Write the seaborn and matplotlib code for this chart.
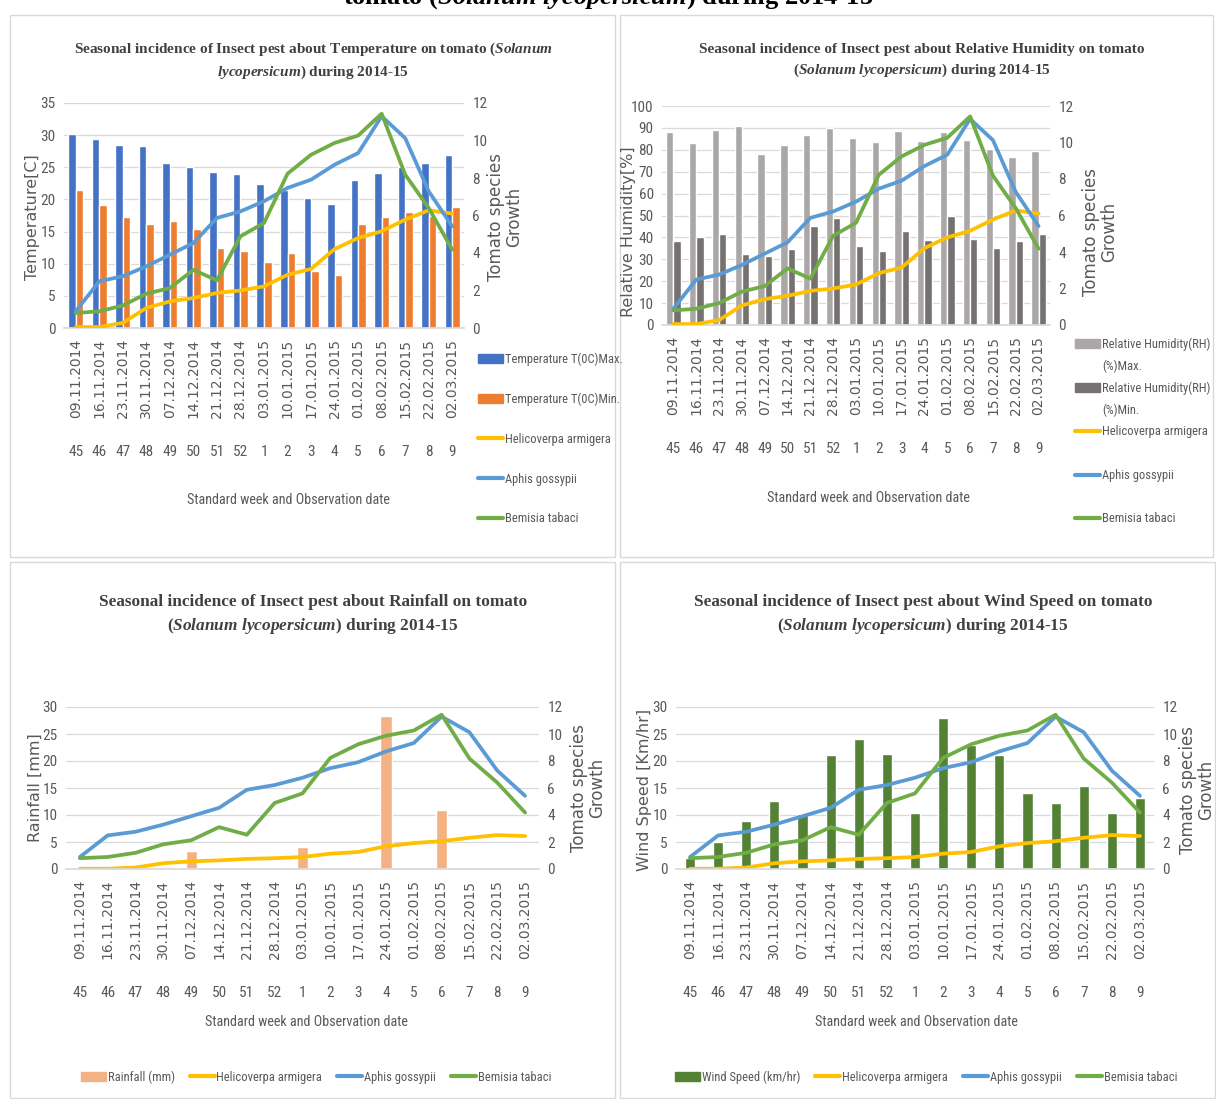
import numpy as np
import pandas as pd
import matplotlib
matplotlib.use('Agg')
import matplotlib.pyplot as plt
from matplotlib import font_manager
from matplotlib.patches import Patch, Rectangle
from matplotlib.lines import Line2D
import seaborn as sns

# ── Data ─────────────────────────────────────────────────────
DATES = ['09.11.2014', '16.11.2014', '23.11.2014', '30.11.2014', '07.12.2014',
         '14.12.2014', '21.12.2014', '28.12.2014', '03.01.2015', '10.01.2015',
         '17.01.2015', '24.01.2015', '01.02.2015', '08.02.2015', '15.02.2015',
         '22.02.2015', '02.03.2015']
WEEKS = ['45', '46', '47', '48', '49', '50', '51', '52',
         '1', '2', '3', '4', '5', '6', '7', '8', '9']

HELICO  = [0.05, 0.05, 0.27, 1.07, 1.42, 1.60, 1.87, 2.00, 2.22, 2.84,
           3.15, 4.21, 4.80, 5.16, 5.78, 6.28, 6.10]
APHIS   = [0.89, 2.49, 2.76, 3.29, 3.91, 4.53, 5.87, 6.22, 6.76, 7.47,
           7.91, 8.71, 9.33, 11.29, 10.13, 7.29, 5.42]
BEMISIA = [0.80, 0.89, 1.20, 1.83, 2.13, 3.10, 2.54, 4.89, 5.60, 8.23,
           9.24, 9.87, 10.26, 11.43, 8.18, 6.40, 4.18]

TEMP_MAX = [30.2, 29.4, 28.5, 28.3, 25.6, 25.1, 24.2, 24.0, 22.4, 21.5,
            20.2, 19.3, 23.1, 24.1, 25.1, 25.6, 26.9]
TEMP_MIN = [21.4, 19.1, 17.2, 16.2, 16.7, 15.4, 12.4, 12.0, 10.3, 11.7,
            8.8, 8.2, 16.2, 17.2, 18.1, 17.5, 18.9]

RH_MAX = [88.1, 82.9, 89.0, 90.8, 78.3, 82.3, 86.9, 89.8, 85.2, 83.5,
          88.5, 84.0, 88.1, 84.4, 80.5, 76.6, 79.4]
RH_MIN = [38.2, 40.0, 41.5, 32.5, 31.3, 34.7, 45.0, 49.0, 35.9, 34.0,
          42.7, 38.6, 50.0, 39.2, 35.1, 38.2, 41.5]

RAINFALL = [0, 0, 0, 0, 3.3, 0, 0, 0, 4.0, 0, 0, 28.3, 0, 10.9, 0, 0, 0]

WIND = [2.1, 5.0, 8.9, 12.6, 10.1, 21.1, 24.1, 21.3, 10.3, 28.0,
        23.0, 21.1, 14.1, 12.3, 15.4, 10.3, 13.2]

IDX = list(range(len(DATES)))

# ── Style ────────────────────────────────────────────────────
BLUE, ORANGE = '#4472C4', '#ED7D31'
YELLOW, LBLUE, GREEN = '#FFC000', '#5B9BD5', '#70AD47'
RH_HI, RH_LO = '#ABA7A7', '#767171'
RAIN_C, WIND_C = '#F4B183', '#548235'
GRID, TXT = '#D9D9D9', '#595959'

installed = {f.name for f in font_manager.fontManager.ttflist}
NARROW = [n for n in ['Roboto Condensed', 'Liberation Sans Narrow', 'Open Sans Condensed',
                      'Liberation Sans'] if n in installed][:1] + ['DejaVu Sans']

sns.set_theme(style='white')
plt.rcParams['font.family'] = ['DejaVu Sans']
plt.rcParams['mathtext.fontset'] = 'custom'
plt.rcParams['mathtext.rm'] = 'Liberation Serif:bold'
plt.rcParams['mathtext.bf'] = 'Liberation Serif:bold'
plt.rcParams['mathtext.it'] = 'Liberation Serif:italic:bold'

W, H = 1216, 1099
fig = plt.figure(figsize=(W / 100, H / 100), dpi=100)


def fx(x):
    return x / W


def fy(y):
    return 1 - y / H


# panel frames
for (x0, y0, x1, y1) in [(10, 15, 615, 557), (620, 15, 1213, 557),
                         (10, 562, 615, 1098), (620, 562, 1215, 1098)]:
    fig.patches.append(Rectangle((fx(x0), fy(y1)), (x1 - x0) / W, (y1 - y0) / H,
                                 transform=fig.transFigure, fill=False,
                                 edgecolor=GRID, lw=1))

# cut-off heading at the very top
fig.text(0.5, 1 + 2 / H, r'tomato ($\mathit{Solanum\ lycopersicum)}$ during 2014-15',
         ha='center', va='center', fontsize=19, fontweight='bold',
         family='Liberation Serif', color='black')


def bars(ax, series, names, colors, width):
    df = pd.DataFrame({
        'idx': IDX * len(series),
        'val': [v for s in series for v in s],
        'series': [n for n, s in zip(names, series) for _ in s],
    })
    sns.barplot(data=df, x='idx', y='val', hue='series', palette=colors,
                width=width, saturation=1, legend=False, ax=ax)


def lines(ax, data, color):
    sns.lineplot(x=IDX, y=data, color=color, lw=2.7, ax=ax)


def style(ax, axr, ymax, ystep):
    ax.set_xlim(-0.5, 16.5)
    ax.set_ylim(0, ymax)
    ax.set_yticks(np.arange(0, ymax + 0.1, ystep))
    axr.set_ylim(0, 12)
    axr.set_yticks(range(0, 13, 2))
    for s in ['top', 'left', 'right']:
        ax.spines[s].set_visible(False)
    ax.spines['bottom'].set_color(GRID)
    for s in axr.spines.values():
        s.set_visible(False)
    ax.grid(axis='y', color=GRID, lw=0.9)
    ax.grid(axis='x', visible=False)
    axr.grid(False)
    ax.set_axisbelow(True)
    ax.set_xticks(IDX)
    ax.set_xticklabels(DATES, rotation=90, fontsize=10, color=TXT)
    ax.tick_params(axis='x', which='major', length=0, pad=8)
    ax.set_xticks(np.arange(-0.5, 17, 1), minor=True)
    ax.tick_params(axis='x', which='minor', length=97, color=GRID, width=0.9)
    ax.tick_params(axis='y', length=0, pad=6, labelsize=11, labelcolor=TXT)
    axr.tick_params(axis='y', length=0, pad=6, labelsize=11, labelcolor=TXT)
    for t in ax.get_yticklabels() + axr.get_yticklabels():
        t.set_family(NARROW)
    for i, w in enumerate(WEEKS):
        ax.annotate(w, xy=(i, 0), xycoords=('data', 'axes fraction'),
                    xytext=(0, -89), textcoords='offset points',
                    ha='center', va='center', fontsize=11, color=TXT,
                    family=NARROW)
    for a in (ax, axr):
        a.set_xlabel('')
        a.set_ylabel('')


def labels(title, tx, ty, tsize, xl, yl, ylx, rx, ly):
    fig.text(fx(tx), fy(ty), title, ha='center', va='center', fontsize=tsize,
             fontweight='bold', family='Liberation Serif', color='#404040',
             linespacing=1.5)
    fig.text(fx(xl[0]), fy(xl[1]), 'Standard week and Observation date',
             ha='center', va='center', fontsize=10.2, color=TXT, family=NARROW)
    fig.text(fx(ylx), fy(ly), yl, ha='center', va='center', rotation=90,
             fontsize=11.5, color=TXT)
    fig.text(fx(rx), fy(ly), 'Tomato species\nGrowth', ha='center', va='center',
             rotation=90, fontsize=12, color=TXT, linespacing=1.0)


def line_handles():
    return [Line2D([], [], color=YELLOW, lw=3, label='Helicoverpa armigera'),
            Line2D([], [], color=LBLUE, lw=3, label='Aphis gossypii'),
            Line2D([], [], color=GREEN, lw=3, label='Bemisia tabaci')]


LEG = dict(frameon=False, handletextpad=0.15, labelcolor=TXT,
           prop={'family': NARROW, 'size': 9})


def stack_legend(handles, x, ys):
    # one entry per row, each row placed at its own height
    for h, y in zip(handles, ys):
        fig.legend(handles=[h], loc='center left', bbox_to_anchor=(fx(x), fy(y)),
                   borderpad=0, borderaxespad=0, handlelength=2.0, **LEG)


# ── Panel 1: Temperature ─────────────────────────────────────
ax1 = fig.add_axes([fx(64), fy(328), 400 / W, 225 / H])
bars(ax1, [TEMP_MAX, TEMP_MIN], ['max', 'min'], [BLUE, ORANGE], 0.64)
ax1r = ax1.twinx()
for d, c in zip([HELICO, APHIS, BEMISIA], [YELLOW, LBLUE, GREEN]):
    lines(ax1r, d, c)
style(ax1, ax1r, 35, 5)
labels('Seasonal incidence of Insect pest about Temperature on tomato ($\\mathit{Solanum}$\n'
       '$\\mathit{lycopersicum)}$ during 2014-15', 313, 61, 11.0,
       (288, 500), 'Temperature[C]', 32, 505, 217)
stack_legend([Patch(color=BLUE, label='Temperature T(0C)Max.'),
              Patch(color=ORANGE, label='Temperature T(0C)Min.')] + line_handles(),
             478, [359, 399, 439, 479, 519])

# ── Panel 2: Relative Humidity ───────────────────────────────
ax2 = fig.add_axes([fx(662), fy(325), 388 / W, 219 / H])
bars(ax2, [RH_MAX, RH_MIN], ['max', 'min'], [RH_HI, RH_LO], 0.64)
ax2r = ax2.twinx()
for d, c in zip([HELICO, APHIS, BEMISIA], [YELLOW, LBLUE, GREEN]):
    lines(ax2r, d, c)
style(ax2, ax2r, 100, 10)
labels('Seasonal incidence of Insect pest about Relative Humidity on tomato\n'
       '($\\mathit{Solanum\\ lycopersicum)}$ during 2014-15', 922, 61, 11.0,
       (868, 498), 'Relative Humidity[%]', 629, 1100, 232)
stack_legend([Patch(color=RH_HI, label='Relative Humidity(RH)'),
              Patch(color=RH_LO, label='Relative Humidity(RH)')] + line_handles(),
             1075, [344, 388, 432, 476, 519])
for txt, y in [('(%)Max.', 366), ('(%)Min.', 410)]:
    fig.text(fx(1102), fy(y), txt, ha='left', va='center', color=TXT,
             family=NARROW, fontsize=9)

# ── Panel 3: Rainfall ────────────────────────────────────────
ax3 = fig.add_axes([fx(66), fy(869), 473 / W, 162 / H])
bars(ax3, [RAINFALL], ['rain'], [RAIN_C], 0.4)
lines(ax3, HELICO, YELLOW)
ax3r = ax3.twinx()
lines(ax3r, APHIS, LBLUE)
lines(ax3r, BEMISIA, GREEN)
style(ax3, ax3r, 30, 5)
labels('Seasonal incidence of Insect pest about Rainfall on tomato\n'
       '($\\mathit{Solanum\\ lycopersicum)}$ during 2014-15', 313, 615, 12.4,
       (306, 1022), 'Rainfall [mm]', 35, 588, 788)
fig.legend(handles=[Patch(color=RAIN_C, label='Rainfall (mm)')] + line_handles(),
           loc='center', bbox_to_anchor=(fx(316), fy(1077)), ncol=4,
           columnspacing=1.2, handlelength=2.0, **LEG)

# ── Panel 4: Wind Speed ──────────────────────────────────────
ax4 = fig.add_axes([fx(676), fy(869), 478 / W, 162 / H])
bars(ax4, [WIND], ['wind'], [WIND_C], 0.36)
lines(ax4, HELICO, YELLOW)
ax4r = ax4.twinx()
lines(ax4r, APHIS, LBLUE)
lines(ax4r, BEMISIA, GREEN)
style(ax4, ax4r, 30, 5)
labels('Seasonal incidence of Insect pest about Wind Speed on tomato\n'
       '($\\mathit{Solanum\\ lycopersicum)}$ during 2014-15', 923, 615, 12.4,
       (916, 1022), 'Wind Speed [Km/hr]', 645, 1197, 790)
fig.legend(handles=[Patch(color=WIND_C, label='Wind Speed (km/hr)')] + line_handles(),
           loc='center', bbox_to_anchor=(fx(926), fy(1077)), ncol=4,
           columnspacing=1.2, handlelength=2.0, **LEG)

plt.savefig('out.png', dpi=100)
plt.close()
